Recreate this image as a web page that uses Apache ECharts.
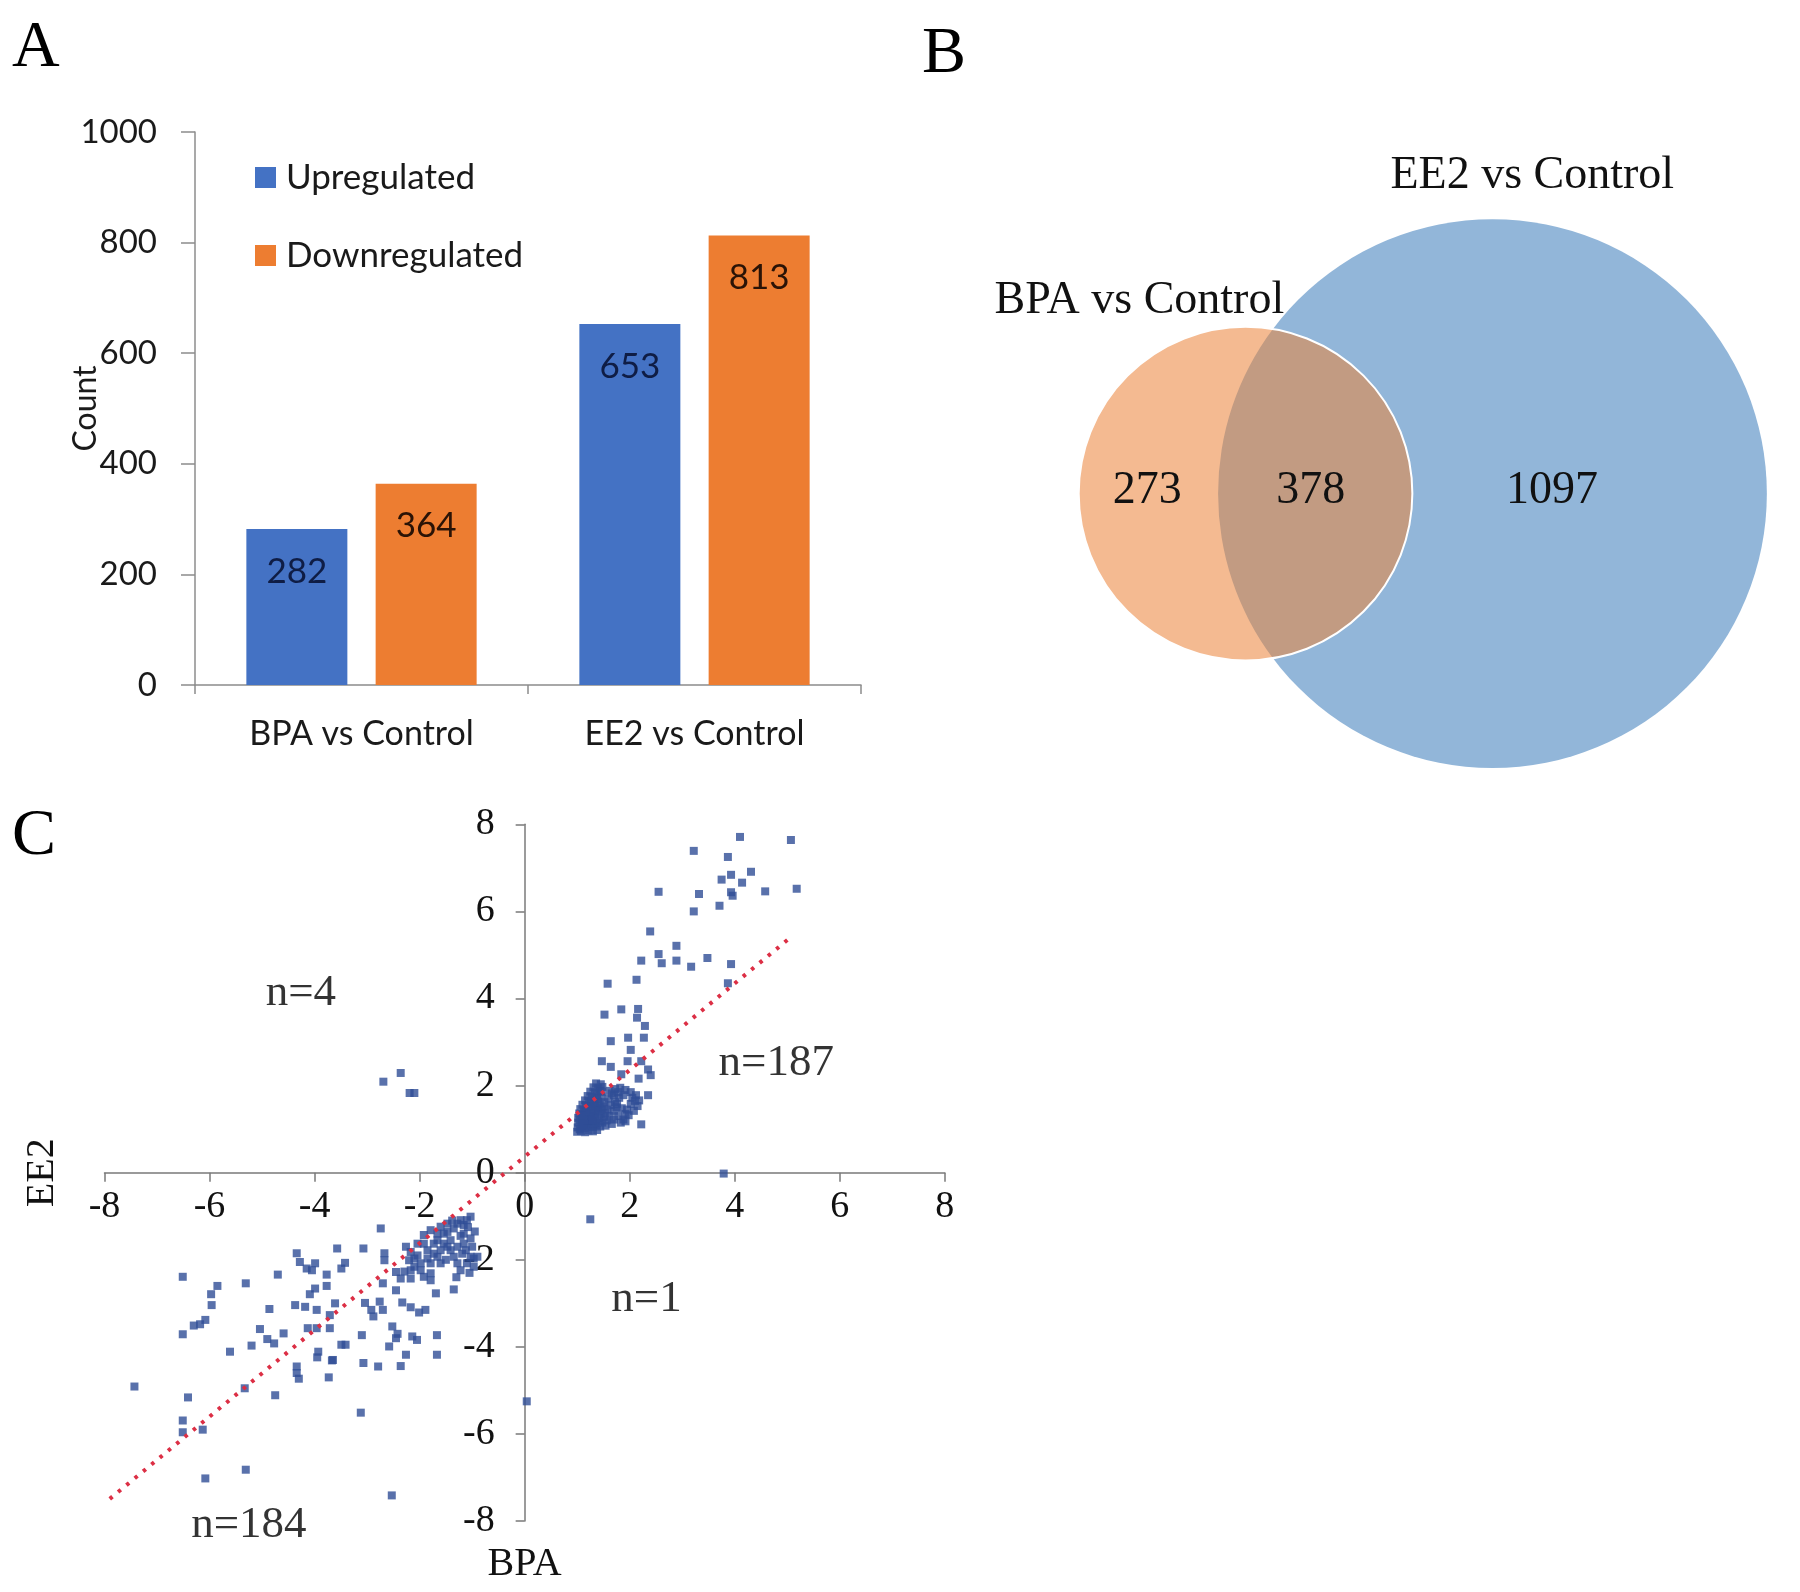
<!DOCTYPE html>
<html><head><meta charset="utf-8">
<script src="https://cdn.jsdelivr.net/npm/echarts@6/dist/echarts.min.js"></script>
<style>html,body{margin:0;padding:0;background:#fff}#c{width:1800px;height:1592px}</style>
</head><body><div id="c"></div>
<script>
// ---------------- DATA ----------------
const barCategories = ['BPA vs Control', 'EE2 vs Control'];
const upregulated = [282, 653];
const downregulated = [364, 813];

const vennSets = ['BPA vs Control', 'EE2 vs Control'];
const vennCounts = [273, 378, 1097]; // BPA only, shared, EE2 only

const quadrantCounts = [4, 187, 1, 184]; // upper-left, upper-right, lower-right, lower-left
const trendX = [-7.9, 5.1];
const trendY = [-7.49, 5.44];

const q1Sparse = [[4.10,7.71],[5.07,7.64],[3.22,7.39],[3.87,7.25],[4.31,6.91],[3.93,6.84],[3.75,6.73],[4.14,6.66],
[2.55,6.45],[3.32,6.40],[3.93,6.44],[3.96,6.36],[4.58,6.46],[5.18,6.52],[3.71,6.13],[3.22,6.00],[2.39,5.54],
[2.89,5.21],[2.55,5.02],[2.22,4.87],[2.61,4.81],[2.89,4.87],[3.17,4.73],[3.48,4.93],[3.93,4.79],[3.87,4.35],
[1.58,4.34],[2.13,4.43],[1.52,3.63],[1.84,3.75],[2.16,3.76],[2.14,3.56],[2.29,3.37],[1.64,3.02],[1.97,3.10],
[2.27,3.10],[2.02,2.82],[1.47,2.56],[1.64,2.43],[1.96,2.56],[2.22,2.56],[2.35,2.37],[2.40,2.24],[2.17,2.16],
[1.84,2.26],[2.35,1.78],[2.22,1.11]];
const q1Cluster = [[1.00,0.94],[1.07,0.96],[1.15,0.93],[1.22,0.97],[1.30,0.95],[1.38,0.98],
[1.01,1.04],[1.08,1.07],[1.14,1.03],[1.21,1.08],[1.29,1.05],[1.36,1.09],[1.44,1.06],
[1.02,1.15],[1.09,1.17],[1.17,1.13],[1.24,1.16],[1.33,1.14],[1.40,1.18],[1.48,1.15],
[1.02,1.26],[1.10,1.24],[1.18,1.27],[1.25,1.23],[1.34,1.28],[1.42,1.25],[1.51,1.27],
[1.04,1.36],[1.11,1.34],[1.19,1.37],[1.27,1.33],[1.35,1.38],[1.45,1.35],[1.54,1.37],
[1.06,1.46],[1.13,1.44],[1.22,1.47],[1.30,1.43],[1.39,1.48],[1.47,1.45],
[1.10,1.56],[1.17,1.54],[1.26,1.57],[1.34,1.53],[1.43,1.56],
[1.15,1.66],[1.23,1.64],[1.31,1.67],[1.40,1.63],
[1.20,1.76],[1.28,1.74],[1.37,1.77],[1.46,1.74],
[1.25,1.86],[1.34,1.84],[1.43,1.87],[1.31,1.96],[1.40,1.94],[1.48,1.97],[1.36,2.05],[1.45,2.03],
[1.05,1.00],[1.12,1.10],[1.20,1.20],[1.28,1.30],[1.16,1.40],[1.24,1.51],[1.33,1.61],[1.38,1.70],
[1.05,1.21],[1.08,1.31],[1.30,1.20],[1.40,1.42],[1.50,1.52],[1.52,1.62],[1.54,1.08],[1.47,1.86],
[1.62,1.88],[1.72,1.92],[1.82,1.95],[1.92,1.90],[2.02,1.85],[2.12,1.78],[2.18,1.66],[2.15,1.53],
[2.08,1.42],[1.98,1.32],[1.88,1.22],[1.78,1.30],[1.70,1.42],[1.64,1.55],[1.60,1.70],[1.70,1.78],
[1.80,1.72],[1.88,1.78],[1.76,1.58],[1.85,1.48],[1.72,1.62],[2.05,1.72],[1.83,1.15],[1.92,1.18],
[1.70,1.22],[1.58,1.45],[1.56,1.20],[1.62,1.30],[1.95,1.45],[2.02,1.58],[1.66,1.82],[1.78,1.85],
[1.66,1.12],[1.75,1.50],[1.92,1.35],[2.10,1.65]];
const q2Points = [[-2.69,2.09],[-2.36,2.29],[-2.19,1.83],[-2.10,1.83]];
const q4Points = [[1.25,-1.07],[0.04,-5.25],[3.79,-0.02]];
const q3Points = [[-6.51,-2.39],[-6.51,-3.71],[-5.85,-2.60],[-5.97,-2.79],[-5.96,-3.04],[-6.08,-3.38],[-6.18,-3.48],
[-6.30,-3.51],[-7.43,-4.91],[-5.61,-4.11],[-5.31,-2.54],[-5.04,-3.59],[-5.20,-3.97],[-4.86,-3.13],[-4.90,-3.82],
[-4.77,-3.92],[-4.59,-3.69],[-4.70,-2.34],[-4.75,-5.11],[-6.41,-5.16],[-6.51,-5.69],[-6.51,-5.96],[-6.13,-5.90],
[-5.31,-6.82],[-6.08,-7.02],[-5.33,-4.95],[-4.34,-1.85],[-4.28,-2.05],[-4.15,-2.20],[-3.99,-2.08],[-4.05,-2.24],
[-3.57,-1.74],[-3.49,-2.20],[-3.77,-2.34],[-3.77,-2.60],[-3.99,-2.66],[-4.09,-2.79],[-4.37,-3.04],[-4.18,-3.08],
[-3.96,-3.15],[-3.61,-3.00],[-3.71,-3.27],[-4.13,-3.57],[-3.96,-3.57],[-3.71,-3.57],[-3.93,-4.11],[-3.95,-4.24],
[-3.49,-3.95],[-3.67,-4.31],[-4.34,-4.45],[-4.34,-4.60],[-4.30,-4.73],[-3.73,-4.70],
[-2.74,-1.28],[-3.07,-1.74],[-2.67,-1.85],[-2.67,-2.01],[-3.42,-2.07],[-2.26,-1.70],[-2.17,-1.82],[-2.20,-2.01],
[-2.45,-2.28],[-2.36,-2.43],[-2.17,-2.43],[-2.45,-2.70],[-2.70,-2.54],[-1.69,-2.77],[-1.35,-2.68],[-3.04,-2.99],
[-2.92,-3.15],[-2.76,-2.96],[-2.70,-3.15],[-2.88,-3.30],[-2.33,-2.98],[-2.17,-3.09],[-2.01,-3.21],[-1.89,-3.15],
[-2.52,-3.53],[-2.42,-3.70],[-2.45,-3.80],[-2.58,-3.99],[-3.10,-3.73],[-3.41,-3.95],[-2.14,-3.76],[-2.05,-3.84],
[-1.67,-3.73],[-2.26,-4.18],[-1.67,-4.18],[-3.65,-4.30],[-3.07,-4.37],[-2.79,-4.45],[-2.36,-4.44],[-3.12,-5.51],
[-2.53,-7.41],
[-2.29,-2.27],[-2.17,-2.24],[-2.10,-2.16],[-2.04,-1.63],[-1.98,-2.24],[-1.92,-1.43],[-1.85,-1.97],[-1.79,-1.32],
[-1.79,-2.08],[-1.79,-2.31],[-1.79,-2.47],[-1.73,-1.86],[-1.66,-1.55],[-1.60,-1.24],[-1.60,-2.08],[-1.54,-1.40],
[-1.47,-1.36],[-1.47,-1.70],[-1.41,-1.78],[-1.35,-1.28],[-1.28,-1.17],[-1.28,-2.08],[-1.22,-1.09],[-1.22,-2.24],
[-1.19,-1.86],[-1.16,-1.40],[-1.16,-1.63],[-1.10,-1.09],[-1.10,-2.08],[-1.03,-1.01],[-1.03,-1.51],[-1.03,-1.93],
[-0.97,-1.97],[-0.90,-1.93],[-0.97,-2.16],[-1.05,-2.30],[-1.92,-2.39],[-1.98,-2.08],[-2.04,-1.90],[-1.85,-1.78],
[-1.66,-1.93],[-1.54,-1.63],[-1.41,-1.55],[-1.35,-1.93],[-1.28,-1.70],[-1.22,-1.45],[-1.47,-1.17],[-1.66,-1.40],
[-1.73,-1.63],[-1.92,-1.63],[-2.10,-1.97],[-1.60,-1.78],[-1.16,-1.20],[-1.38,-1.10],[-1.50,-2.00],[-1.30,-2.40],
[-1.00,-1.70],[-1.12,-1.78],[-0.95,-1.35],[-1.08,-1.25]];

// ---------------- LAYOUT ----------------
const SERIF = '"Liberation Serif","Times New Roman",serif';
const SANS = 'Lato,"Open Sans",sans-serif';
const VENN = { ee2R: 1, bpaR: 0.608, bpaCx: -0.9,
  labelPos: [[-1.258, 0.01], [-0.662, 0.01], [0.217, 0.01]],
  setLabelPos: [[-1.287, 0.70], [0.145, 1.154]] };
const quadLabelPos = [[-4.26, 4.13], [4.79, 2.52], [2.32, -2.91], [-5.25, -8.10]];

// scatter grid (panel C); axes cross at the origin
const GC = { left: 104.5, top: 824.3, width: 840.3, height: 696.8, min: -8, max: 8 };
const xAxisShift = -GC.height * (0 - GC.min) / (GC.max - GC.min);
const yAxisShift = -GC.width * (0 - GC.min) / (GC.max - GC.min);

function renderVenn(params, api) {
  const cB = api.coord([0, 0]);
  const cA = api.coord([VENN.bpaCx, 0]);
  const rB = api.size([VENN.ee2R, 0])[0];
  const rA = api.size([VENN.bpaR, 0])[0];
  const d = cB[0] - cA[0];
  const a = (rA * rA - rB * rB + d * d) / (2 * d);
  const h = Math.sqrt(rA * rA - a * a);
  const px = cA[0] + a, py = cA[1];
  const lens = 'M' + px + ' ' + (py - h) + ' A' + rA + ' ' + rA + ' 0 0 1 ' + px + ' ' + (py + h) +
               ' A' + rB + ' ' + rB + ' 0 0 1 ' + px + ' ' + (py - h) + ' Z';
  const txt = (pos, s) => { const p = api.coord(pos); return { type: 'text', z2: 10,
    style: { x: p[0], y: p[1], text: s, fontFamily: SERIF, fontSize: 46, fill: '#111', align: 'center', verticalAlign: 'middle' } }; };
  return { type: 'group', children: [
    { type: 'circle', shape: { cx: cB[0], cy: cB[1], r: rB }, style: { fill: '#92B6D9' } },
    { type: 'circle', shape: { cx: cA[0], cy: cA[1], r: rA }, style: { fill: '#F4BA91' } },
    { type: 'path', shape: { pathData: lens }, style: { fill: '#C29B82' } },
    { type: 'circle', shape: { cx: cA[0], cy: cA[1], r: rA }, style: { fill: 'none', stroke: '#fff', lineWidth: 2 } },
    txt(VENN.labelPos[0], String(vennCounts[0])),
    txt(VENN.labelPos[1], String(vennCounts[1])),
    txt(VENN.labelPos[2], String(vennCounts[2])),
    txt(VENN.setLabelPos[0], vennSets[0]),
    txt(VENN.setLabelPos[1], vennSets[1])
  ]};
}

const scatterPts = q1Sparse.concat(q1Cluster, q2Points, q3Points, q4Points);
const letterStyle = { fontFamily: SERIF, fontSize: 66, fontWeight: 'normal', color: '#000' };

const option = {
  animation: false,
  backgroundColor: '#fff',
  title: [
    { text: 'A', left: 12, top: 16, padding: 0, textStyle: letterStyle },
    { text: 'B', left: 922, top: 22, padding: 0, textStyle: letterStyle },
    { text: 'C', left: 12, top: 804, padding: 0, textStyle: letterStyle }
  ],
  legend: {
    data: ['Upregulated', 'Downregulated'], orient: 'vertical', left: 255, top: 160, padding: 0,
    itemWidth: 21, itemHeight: 21, itemGap: 43, icon: 'rect',
    textStyle: { fontFamily: SANS, fontSize: 35, color: '#1a1a1a', lineHeight: 34, padding: [0, 0, 0, 5] }
  },
  grid: [
    { left: 195, top: 132, width: 666, height: 553, outerBoundsMode: 'none', containLabel: false },
    { left: 943.7, top: 80.35, width: 850.6, height: 826.5, outerBoundsMode: 'none', containLabel: false },
    { left: GC.left, top: GC.top, width: GC.width, height: GC.height, outerBoundsMode: 'none', containLabel: false }
  ],
  xAxis: [
    { gridIndex: 0, type: 'category', data: barCategories,
      axisLine: { lineStyle: { color: '#8c8c8c', width: 1.5 } },
      axisTick: { show: true, length: 9, lineStyle: { color: '#8c8c8c', width: 1.5 } },
      axisLabel: { fontFamily: SANS, fontSize: 34, color: '#1a1a1a', margin: 32 } },
    { gridIndex: 1, type: 'value', min: -2, max: 1.1, show: false },
    { gridIndex: 2, type: 'value', min: GC.min, max: GC.max, interval: 2, position: 'bottom', offset: xAxisShift,
      name: 'BPA', nameLocation: 'middle', nameGap: 372, nameMoveOverlap: false,
      nameTextStyle: { fontFamily: SERIF, fontSize: 40, color: '#111' },
      axisLine: { onZero: false, lineStyle: { color: '#7a7a7a', width: 1.5 } },
      axisTick: { show: true, length: 9, lineStyle: { color: '#7a7a7a', width: 1.5 } },
      splitLine: { show: false },
      axisLabel: { fontFamily: SERIF, fontSize: 38, color: '#111', margin: 15 } }
  ],
  yAxis: [
    { gridIndex: 0, type: 'value', min: 0, max: 1000, interval: 200,
      name: 'Count', nameLocation: 'middle', nameGap: 93, nameMoveOverlap: false,
      nameTextStyle: { fontFamily: SANS, fontSize: 32, color: '#1a1a1a' },
      axisLine: { show: true, lineStyle: { color: '#8c8c8c', width: 1.5 } },
      axisTick: { show: true, length: 14, lineStyle: { color: '#8c8c8c', width: 1.5 } },
      splitLine: { show: false },
      axisLabel: { fontFamily: SANS, fontSize: 33, color: '#1a1a1a', margin: 38, formatter: v => String(v) } },
    { gridIndex: 1, type: 'value', min: -1.5, max: 1.5, show: false },
    { gridIndex: 2, type: 'value', min: GC.min, max: GC.max, interval: 2, position: 'left', offset: yAxisShift,
      name: 'EE2', nameLocation: 'middle', nameGap: 462, nameMoveOverlap: false,
      nameTextStyle: { fontFamily: SERIF, fontSize: 40, color: '#111' },
      axisLine: { onZero: false, lineStyle: { color: '#7a7a7a', width: 1.5 } },
      axisTick: { show: true, length: 9, lineStyle: { color: '#7a7a7a', width: 1.5 } },
      splitLine: { show: false },
      axisLabel: { fontFamily: SERIF, fontSize: 38, color: '#111', margin: 30 } }
  ],
  series: [
    { name: 'Upregulated', type: 'bar', xAxisIndex: 0, yAxisIndex: 0, data: upregulated,
      barWidth: 101, barGap: '28%', itemStyle: { color: '#4472C4' },
      label: { show: true, position: 'insideTop', distance: 25, fontFamily: SANS, fontSize: 35, color: '#0f1d45' } },
    { name: 'Downregulated', type: 'bar', xAxisIndex: 0, yAxisIndex: 0, data: downregulated,
      barWidth: 101, barGap: '28%', itemStyle: { color: '#ED7D31' },
      label: { show: true, position: 'insideTop', distance: 25, fontFamily: SANS, fontSize: 35, color: '#2a1306' } },
    { name: 'Venn', type: 'custom', xAxisIndex: 1, yAxisIndex: 1, data: [[0, 0]], renderItem: renderVenn, silent: true },
    { name: 'Genes', type: 'scatter', xAxisIndex: 2, yAxisIndex: 2, data: scatterPts,
      symbol: 'rect', symbolSize: 8, itemStyle: { color: '#2F4E96' }, z: 2 },
    { name: 'Trend', type: 'line', xAxisIndex: 2, yAxisIndex: 2,
      data: [[trendX[0], trendY[0]], [trendX[1], trendY[1]]], symbol: 'none', z: 3,
      lineStyle: { color: '#DC2F45', width: 4, type: [3.5, 7.3], cap: 'butt' } },
    { name: 'Quadrants', type: 'scatter', xAxisIndex: 2, yAxisIndex: 2, symbolSize: 0, clip: false, silent: true,
      data: quadLabelPos.map((p, i) => ({ value: p, name: 'n=' + quadrantCounts[i] })),
      label: { show: true, position: 'inside', formatter: '{b}', fontFamily: SERIF, fontSize: 45, color: '#000' } }
  ]
};
echarts.init(document.getElementById('c')).setOption(option);
</script>
</body></html>
